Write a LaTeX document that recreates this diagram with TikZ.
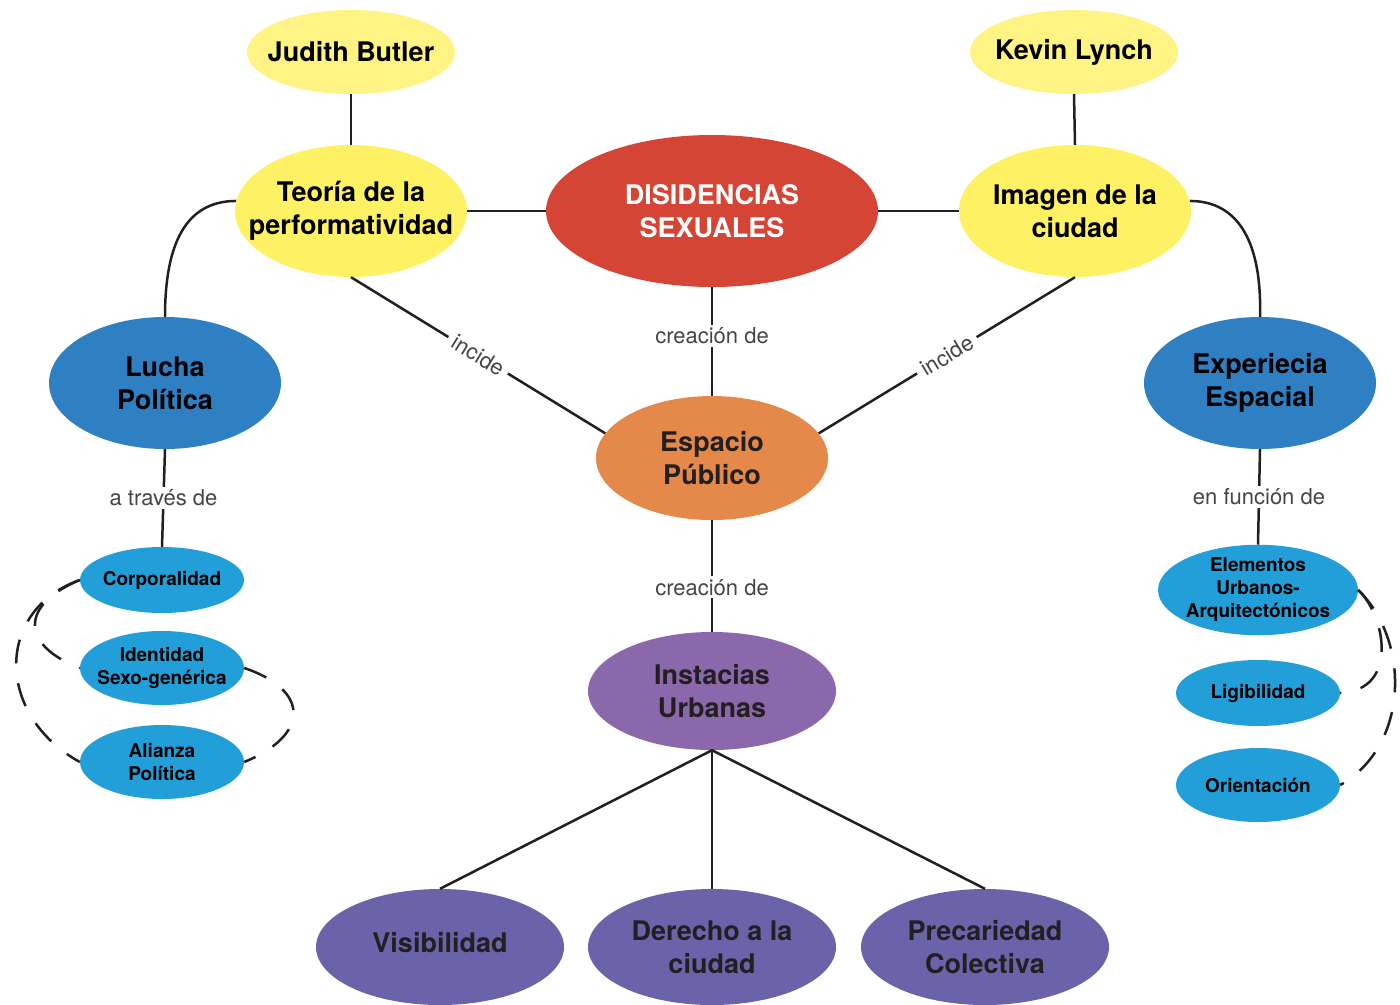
\documentclass[tikz,border=0pt]{standalone}
\usepackage{fontspec}
\setmainfont{TeX Gyre Heros}
\usetikzlibrary{shapes.geometric}

\newlength{\du}
\setlength{\du}{1pt}

\definecolor{butleryellow}{HTML}{FEF383}
\definecolor{ideayellow}{HTML}{FEF264}
\definecolor{disidred}{HTML}{D54536}
\definecolor{luchablue}{HTML}{2F80C2}
\definecolor{itemblue}{HTML}{229FD8}
\definecolor{espacioorange}{HTML}{E5894B}
\definecolor{urbanpurple}{HTML}{8B67AC}
\definecolor{leafpurple}{HTML}{6A63AA}
\definecolor{inktext}{HTML}{231F20}
\definecolor{linkgray}{HTML}{454545}

\tikzset{
  idea/.style={ellipse, fill=#1, draw=none, inner xsep=-40pt, inner ysep=0pt,
    align=center, text=black, font=\fontsize{27}{33}\selectfont\bfseries},
  smallidea/.style={idea=#1, font=\fontsize{19}{23}\selectfont\bfseries},
  link/.style={draw=inktext, line width=2.5pt},
  looplink/.style={link, dash pattern=on 24pt off 20pt},
  linklabel/.style={fill=white, inner xsep=6pt, inner ysep=3pt, text=linkgray,
    font=\fontsize{22}{26}\selectfont}
}

\begin{document}
\begin{tikzpicture}[x=\du,y=-\du]
\useasboundingbox (0,0) rectangle (1400,1004);

% authors and theories
\node[idea=butleryellow, minimum width=208\du, minimum height=84\du] (butler) at (351,52) {Judith Butler};
\node[idea=butleryellow, minimum width=208\du, minimum height=84\du] (lynch) at (1074,52) {Kevin Lynch};
\node[idea=ideayellow, minimum width=232\du, minimum height=132\du] (teoria) at (351,211) {Teoría de la\\performatividad};
\node[idea=ideayellow, minimum width=232\du, minimum height=132\du] (imagen) at (1075,211) {Imagen de la\\ciudad};
\node[idea=disidred, text=white, minimum width=332\du, minimum height=152\du] (disid) at (712,211) {DISIDENCIAS\\SEXUALES};

% second level
\node[idea=luchablue, minimum width=232\du, minimum height=132\du] (lucha) at (165,383) {Lucha\\Política};
\node[idea=luchablue, minimum width=232\du, minimum height=132\du] (exper) at (1260,383) {Experiecia\\Espacial};
\node[idea=espacioorange, text=inktext, minimum width=232\du, minimum height=124\du] (espacio) at (712,458) {Espacio\\Público};
\node[idea=urbanpurple, text=inktext, minimum width=248\du, minimum height=118\du] (urban) at (712,691) {Instacias\\Urbanas};

% bottom row
\node[idea=leafpurple, text=inktext, minimum width=248\du, minimum height=116\du] (visib) at (440,947) {\raisebox{10pt}{Visibilidad}};
\node[idea=leafpurple, text=inktext, minimum width=248\du, minimum height=116\du] (derecho) at (712,947) {Derecho a la\\ciudad};
\node[idea=leafpurple, text=inktext, minimum width=248\du, minimum height=116\du] (precar) at (985,947) {Precariedad\\Colectiva};

% left list
\node[smallidea=itemblue, minimum width=164\du, minimum height=66\du] (corp) at (162,580) {Corporalidad};
\node[smallidea=itemblue, minimum width=164\du, minimum height=74\du] (iden) at (162,668) {Identidad\\Sexo-genérica};
\node[smallidea=itemblue, minimum width=164\du, minimum height=74\du] (alianza) at (162,762) {Alianza\\Política};

% right list
\node[smallidea=itemblue, minimum width=200\du, minimum height=90\du] (elem) at (1258,590) {Elementos\\Urbanos-\\Arquitectónicos};
\node[smallidea=itemblue, minimum width=164\du, minimum height=66\du] (ligi) at (1258,693) {Ligibilidad};
\node[smallidea=itemblue, minimum width=164\du, minimum height=74\du] (orient) at (1258,785) {Orientación};

% connectors
\draw[link] (butler.south) -- (teoria.north);
\draw[link] (lynch.south) -- (imagen.north);
\draw[link] (teoria.east) -- (disid.west);
\draw[link] (disid.east) -- (imagen.west);
\draw[link] (teoria.south) -- node[linklabel, sloped] {incide} (espacio.167);
\draw[link] (imagen.south) -- node[linklabel, sloped] {incide} (espacio.13);
\draw[link] (disid.south) -- node[linklabel, pos=0.45] {creación de} (espacio.north);
\draw[link] (espacio.south) -- node[linklabel, pos=0.6] {creación de} (urban.north);
\draw[link] (teoria.175) .. controls (185,201) and (165,245) .. (lucha.north);
\draw[link] (imagen.5) .. controls (1240,201) and (1262,245) .. (exper.north);
\draw[link] (lucha.south) -- node[linklabel] {a través de} (corp.north);
\draw[link] (exper.south) -- node[linklabel] {en función de} (elem.north);
\draw[link] (urban.south) -- (visib.north);
\draw[link] (urban.south) -- (derecho.north);
\draw[link] (urban.south) -- (precar.north);

% dashed loops
\draw[looplink] (corp.west) .. controls (20,605) and (20,645) .. (iden.west);
\draw[looplink] (corp.west) .. controls (-5,610) and (-5,715) .. (alianza.west);
\draw[looplink] (iden.east) .. controls (310,690) and (310,735) .. (alianza.east);
\draw[looplink] (elem.east) .. controls (1385,615) and (1400,690) .. (ligi.east);
\draw[looplink] (elem.east) .. controls (1410,640) and (1410,745) .. (orient.east);
\end{tikzpicture}
\end{document}
